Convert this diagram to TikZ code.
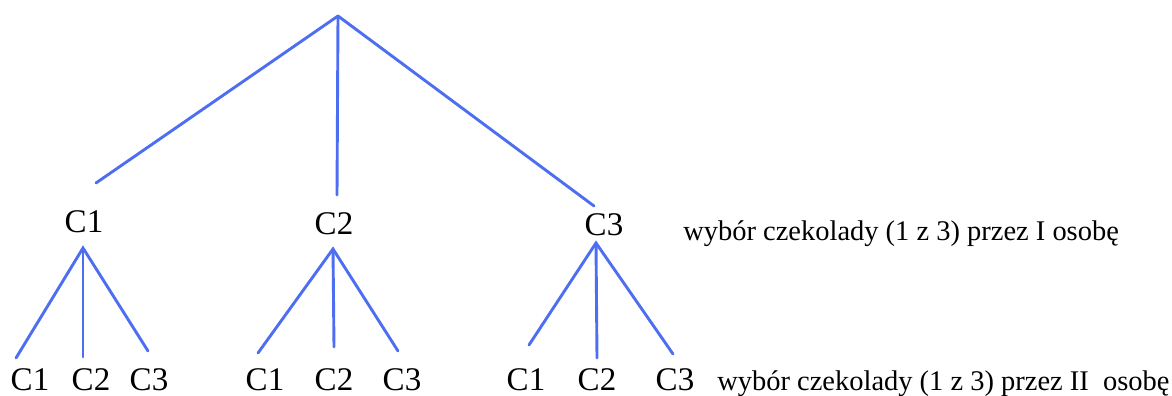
\documentclass[tikz,border=0pt]{standalone}
\usepackage{fontspec}
\setmainfont{Liberation Serif}
\usepackage{tikz}
\usetikzlibrary{positioning}

\definecolor{treeblue}{RGB}{78,110,242}
\tikzset{
  branch/.style={treeblue, line width=1.65pt, line cap=round},
  choice/.style={inner sep=0pt, font=\fontsize{18.8}{22}\selectfont},
  note/.style={inner sep=0pt, anchor=base west, font=\fontsize{16.2}{20}\selectfont}
}

\begin{document}
\begin{tikzpicture}
  \useasboundingbox (0,0) rectangle (23.44,7.92);
  % first choice
  \coordinate (r) at (6.76,7.60);
  \coordinate (t1) at (1.92,4.26);
  \coordinate (t2) at (6.74,4.02);
  \coordinate (t3) at (11.88,3.80);
  \node [choice] (c1) at (1.68,3.49) {C1};
  \node [choice] (c2) at (6.68,3.45) {C2};
  \node [choice] (c3) at (12.08,3.42) {C3};
  \draw [branch] (r) -- (t1);
  \draw [branch] (r) -- (t2);
  \draw [branch] (r) -- (t3);
  \node [note] (n1) at (13.66,3.10) {wybór czekolady (1 z 3) przez I osobę};
  % second choice
  \coordinate (u1) at (1.66,2.96);
  \coordinate (u2) at (6.66,2.94);
  \coordinate (u3) at (11.92,3.06);
  \coordinate (e11) at (0.32,0.76);
  \coordinate (e12) at (1.66,0.78);
  \coordinate (e13) at (2.96,0.90);
  \coordinate (e21) at (5.16,0.86);
  \coordinate (e22) at (6.68,0.98);
  \coordinate (e23) at (7.96,0.90);
  \coordinate (e31) at (10.58,1.02);
  \coordinate (e32) at (11.94,0.76);
  \coordinate (e33) at (13.46,0.84);
  \draw [branch] (e11) -- (u1) -- (e13);
  \draw [branch] (u1) -- (e12);
  \draw [branch] (e21) -- (u2) -- (e23);
  \draw [branch] (u2) -- (e22);
  \draw [branch] (e31) -- (u3) -- (e33);
  \draw [branch] (u3) -- (e32);
  \node [choice] (c11) at (0.60,0.33) {C1};
  \node [choice] (c12) at (1.82,0.33) {C2};
  \node [choice] (c13) at (2.98,0.33) {C3};
  \node [choice] (c21) at (5.30,0.33) {C1};
  \node [choice] (c22) at (6.68,0.33) {C2};
  \node [choice] (c23) at (8.04,0.33) {C3};
  \node [choice] (c31) at (10.52,0.33) {C1};
  \node [choice] (c32) at (11.94,0.33) {C2};
  \node [choice] (c33) at (13.50,0.33) {C3};
  \node [note] (n2) at (14.34,0.10) {wybór czekolady (1 z 3) przez II\ \ osobę};
\end{tikzpicture}
\end{document}
